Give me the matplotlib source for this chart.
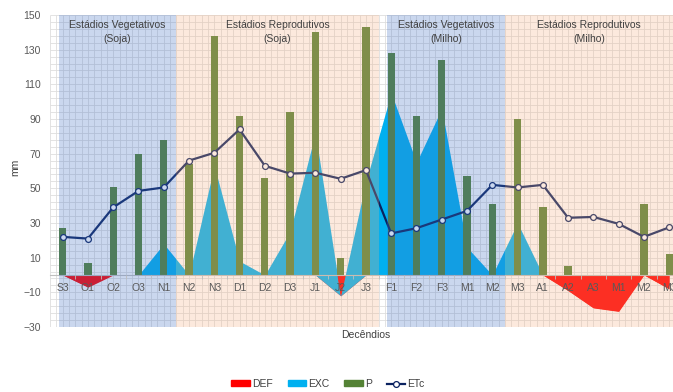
import numpy as np
import matplotlib
matplotlib.use("Agg")
import matplotlib.pyplot as plt
from matplotlib.patches import Patch
from matplotlib.lines import Line2D

plt.rcParams["font.family"] = ["Liberation Sans", "DejaVu Sans"]

# Data (mm per decendio)
decendios = ["S3", "O1", "O2", "O3", "N1", "N2", "N3", "D1", "D2", "D3", "J1", "J2", "J3",
             "F1", "F2", "F3", "M1", "M2", "M3", "A1", "A2", "A3", "M1", "M2", "M3"]
P = [27, 7, 51, 70, 78, 64, 138, 92, 56, 94, 140, 10, 143,
     128, 92, 124, 57, 41, 90, 39, 5, 0, 0, 41, 12]
EXC = [0, 0, 0, 0, 18, 0, 63, 8, 0, 25, 82, 0, 54,
       105, 65, 96, 16, 0, 30, 0, 0, 0, 0, 0, 0]
DEF = [0, -7, 0, 0, 0, 0, 0, 0, 0, 0, 0, -12, 0,
       0, 0, 0, 0, 0, 0, 0, -9, -19, -21, 0, -8]
ETc = [22, 21, 39, 48.5, 50.5, 66, 70.5, 84, 63, 58.5, 59, 55.5, 60.5,
       24, 27, 32, 37, 52, 50.5, 52, 33, 33.5, 29.5, 22, 27.5]

stage_labels = ["Estádios Vegetativos\n(Soja)", "Estádios Reprodutivos\n(Soja)",
                "Estádios Vegetativos\n(Milho)", "Estádios Reprodutivos\n(Milho)"]

# layout
XMIN, XMAX = -0.5, 24.15
stage_left = [-0.15, 4.5, 12.85, 17.5]
stage_right = [4.5, 12.5, 17.5, XMAX]
stage_colors = ["#4472C4", "#F4B183", "#4472C4", "#F4B183"]
stage_alpha = [0.28, 0.27, 0.28, 0.27]

TXT = "#404040"
GRID = "#DEDEDE"
LINE = "#0A2260"

fig = plt.figure(figsize=(6.73, 3.92), dpi=100)
ax = fig.add_axes([50 / 673, 65 / 392, 623 / 673, 312 / 392])
ax.set_xlim(XMIN, XMAX)
ax.set_ylim(-30, 150)

# fine background grid
ax.hlines(np.arange(-30, 151, 4), XMIN, XMAX, color=GRID, lw=0.6, zorder=0.5)
ax.vlines(np.arange(XMIN, XMAX, 0.25), -30, 150, color=GRID, lw=0.6, zorder=0.5)

x = np.arange(len(decendios))
exc = np.array(EXC, float)
dfc = np.array(DEF, float)
net = dfc + exc  # stacked areas, like the original sheet
ax.fill_between(x, 0, dfc, color="#FF0000", lw=0, zorder=1)
ax.fill_between(x, dfc, net, color="#00B0F0", lw=0, zorder=1.5)
ax.fill_between(x, 0, net, where=net < 0, interpolate=True, color="#FF0000", lw=0, zorder=1.6)
ax.bar(x, P, width=0.29, color="#548235", zorder=2)
ax.plot(x, ETc, color=LINE, lw=1.6, marker="o", ms=4.2,
        mfc="white", mec=LINE, mew=0.9, zorder=3)

# stage shading drawn over the data (as in the original)
for l, r, c, a, lab in zip(stage_left, stage_right, stage_colors, stage_alpha, stage_labels):
    ax.axvspan(l, r, color=c, alpha=a, lw=0, zorder=4)
    ax.text((l + r) / 2, 147.0, lab, ha="center", va="top", fontsize=7.5,
            color=TXT, linespacing=1.45, zorder=5)

# axes styling
for s in ["left", "right", "top"]:
    ax.spines[s].set_visible(False)
ax.spines["bottom"].set_position(("data", 0))
ax.spines["bottom"].set_color("#BFBFBF")
ax.spines["bottom"].set_zorder(3.5)
ax.xaxis.set_zorder(4.5)

ax.set_xticks(x)
ax.set_xticklabels(decendios)
ax.set_xticks(np.arange(0.5, 24, 1), minor=True)
ax.tick_params(axis="x", which="major", length=0, pad=5.5, labelsize=7.5, labelcolor="#595959")
ax.tick_params(axis="x", which="minor", length=3, color="#BFBFBF")
ax.set_yticks(np.arange(-30, 151, 20))
ax.tick_params(axis="y", length=0, pad=6.5, labelsize=7.5, labelcolor="#595959")

fig.text(15 / 673, 1 - 167 / 392, "mm", rotation=90, ha="center", va="center",
         fontsize=7.5, color=TXT)
fig.text(366 / 673, 1 - 335 / 392, "Decêndios", ha="center", va="center",
         fontsize=7.5, color=TXT)

handles = [Patch(color="#FF0000"), Patch(color="#00B0F0"), Patch(color="#548235"),
           Line2D([], [], color=LINE, lw=1.6, marker="o", ms=4.2, mfc="white", mew=0.9)]
fig.legend(handles, ["DEF", "EXC", "P", "ETc"], loc="center", ncol=4,
           bbox_to_anchor=(328 / 673, 1 - 384 / 392), frameon=False, fontsize=7.5,
           handlelength=1.8, handleheight=0.45, handletextpad=0.2, columnspacing=1.4,
           labelcolor=TXT)

fig.savefig("out.png", dpi=100)
